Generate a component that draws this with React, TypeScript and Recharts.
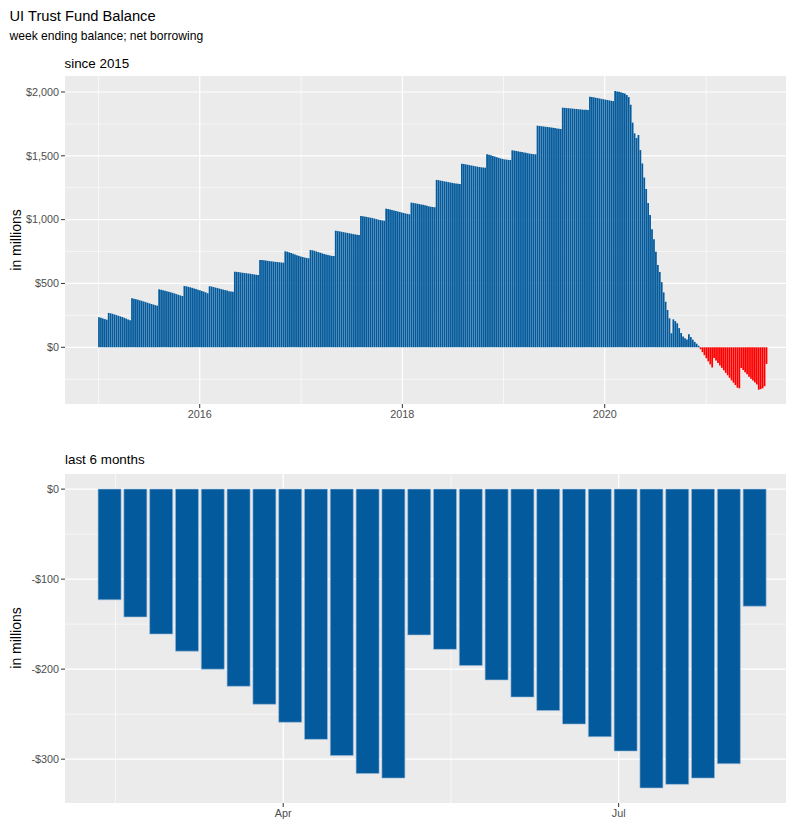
import React from 'react';
import { BarChart, Bar, XAxis, YAxis, CartesianGrid, Cell } from 'recharts';

const DAY = 86400000;

// week ending balance, $ millions, one value per Saturday starting 2015-01-03
const firstWeek = '2015-01-03';
const balance2015 = [
  235, 231, 226, 221, 216,
  269, 266, 262, 257, 252, 247, 242, 237, 231, 225, 218, 211,
  384, 381, 377, 373, 368, 364, 359, 354, 349, 344, 339, 335, 330, 326,
  454, 451, 447, 443, 439, 435, 431, 426, 421, 416, 411, 406, 402,
  480, 478, 474, 470, 466, 461, 456, 451,
];
const balance2016 = [
  446, 441, 436, 430, 423,
  478, 476, 472, 468, 464, 460, 456, 452, 448, 444, 440, 437, 436,
  592, 591, 589, 586, 584, 582, 580, 578, 576, 573, 571, 568, 566,
  684, 683, 681, 679, 677, 675, 673, 671, 669, 668, 666, 664, 663,
  752, 749, 744, 738, 733, 727, 721, 716, 711,
];
const balance2017 = [
  707, 703, 700, 697,
  762, 760, 756, 751, 746, 741, 736, 731, 727, 723, 719, 716, 715,
  913, 911, 908, 905, 902, 899, 896, 893, 890, 887, 884, 882, 880,
  1029, 1027, 1024, 1021, 1018, 1015, 1012, 1008, 1004, 1000, 997, 994, 992,
  1086, 1084, 1080, 1076, 1072, 1068, 1064, 1060, 1056,
];
const balance2018 = [
  1052, 1048, 1045, 1042,
  1133, 1131, 1128, 1125, 1122, 1119, 1116, 1112, 1108, 1104, 1101, 1099, 1097,
  1311, 1309, 1306, 1303, 1300, 1297, 1294, 1291, 1288, 1285, 1283, 1281, 1279,
  1438, 1436, 1433, 1430, 1427, 1424, 1421, 1418, 1415, 1412, 1410, 1408, 1407,
  1512, 1509, 1504, 1499, 1494, 1489, 1484, 1479, 1475,
];
const balance2019 = [
  1472, 1470, 1468, 1467,
  1543, 1541, 1538, 1535, 1532, 1529, 1526, 1523, 1520, 1517, 1515, 1513, 1512,
  1736, 1734, 1732, 1730, 1728, 1726, 1724, 1722, 1720, 1717, 1714, 1712, 1710,
  1877, 1876, 1874, 1873, 1871, 1870, 1868, 1867, 1865, 1864, 1862, 1861, 1860, 1859,
  1963, 1961, 1958, 1955, 1952, 1949, 1946, 1943,
];
const balance2020 = [
  1940, 1937, 1934, 1931, 1929,
  2008, 2004, 2001, 1997, 1993, 1988, 1976, 1960, 1900, 1760, 1676, 1640, 1663,
  1545, 1440, 1330, 1240, 1130, 1036, 924, 846, 749, 645, 590, 510, 430, 357,
  292, 227, 110, 219, 205, 188, 150, 112, 85, 70, 62, 102, 80, 60, 42, 28, 12,
  -15, -38, -62,
];
const borrowing2021Jan = [-86, -110, -134, -158, -84, -104];

// last 6 months
const last6Dates = [
  '2021-02-13', '2021-02-20', '2021-02-27', '2021-03-06', '2021-03-13', '2021-03-20',
  '2021-03-27', '2021-04-03', '2021-04-10', '2021-04-17', '2021-04-24', '2021-05-01',
  '2021-05-08', '2021-05-15', '2021-05-22', '2021-05-29', '2021-06-05', '2021-06-12',
  '2021-06-19', '2021-06-26', '2021-07-03', '2021-07-10', '2021-07-17', '2021-07-24',
  '2021-07-31', '2021-08-07',
];
const last6Values = [
  -123, -142, -161, -180, -200, -219, -239, -259, -278, -296, -316, -321,
  -162, -178, -196, -212, -231, -246, -261, -275, -291, -332, -328, -321, -305, -130,
];

const yearTicks = ['2016-01-01', '2018-01-01', '2020-01-01'];
const yearMinor = ['2015-01-01', '2017-01-01', '2019-01-01', '2021-01-01'];
const balanceTicks = [0, 500, 1000, 1500, 2000];
const balanceMinor = [-250, 250, 750, 1250, 1750];
const monthTicks = ['2021-04-01', '2021-07-01'];
const monthMinor = ['2021-02-14T12:00:00Z', '2021-05-16T12:00:00Z'];
const borrowTicks = [-300, -200, -100, 0];
const borrowMinor = [-250, -150, -50];

const MONTHS = ['Jan', 'Feb', 'Mar', 'Apr', 'May', 'Jun', 'Jul', 'Aug', 'Sep', 'Oct', 'Nov', 'Dec'];
const ts = (s: string) => Date.parse(s.length === 10 ? s + 'T00:00:00Z' : s);

const allBalances = [
  ...balance2015, ...balance2016, ...balance2017, ...balance2018,
  ...balance2019, ...balance2020, ...borrowing2021Jan, ...last6Values,
];
const topData = allBalances.map((v, i) => ({ t: ts(firstWeek) + i * 7 * DAY, v }));
const bottomData = last6Dates.map((d, i) => ({ t: ts(d), v: last6Values[i] }));

const FONT = '"Liberation Sans", Arial, sans-serif';
const BLUE = '#035a9c';
const tickStyle = { fill: '#4d4d4d', fontSize: 10.8, fontFamily: FONT };
const money = (v: number) => (v < 0 ? '-$' : '$') + Math.abs(v).toLocaleString('en-US');

const App: React.FC = () => {
  const apr = ts('2021-04-01');
  return (
    <div style={{ position: 'absolute', left: 0, top: 0, width: 787, height: 819, background: '#fff', fontFamily: FONT }}>
      <svg width={787} height={819} style={{ position: 'absolute', left: 0, top: 0 }}>
        <text x={9.5} y={21} fontSize={14.7} fill="#000" fontFamily={FONT}>UI Trust Fund Balance</text>
        <text x={9.5} y={39.5} fontSize={12.1} fill="#000" fontFamily={FONT}>week ending balance; net borrowing</text>
        <text x={64.5} y={67.5} fontSize={13.4} fill="#000" fontFamily={FONT}>since 2015</text>
        <text x={65} y={464} fontSize={13.4} fill="#000" fontFamily={FONT}>last 6 months</text>
        <text x={16} y={240} fontSize={14} fill="#000" fontFamily={FONT} textAnchor="middle" dominantBaseline="central" transform="rotate(-90 16 240)">in millions</text>
        <text x={16} y={638} fontSize={14} fill="#000" fontFamily={FONT} textAnchor="middle" dominantBaseline="central" transform="rotate(-90 16 638)">in millions</text>
      </svg>

      <div style={{ position: 'absolute', left: 0, top: 76 }}>
        <BarChart width={787} height={348} data={topData} margin={{ top: 0, right: 1, bottom: 0, left: 0 }} barCategoryGap={0}>
          <CartesianGrid fill="#ebebeb" stroke="#ffffff" strokeWidth={0.6}
            horizontalValues={balanceMinor} verticalValues={yearMinor.map(ts)} />
          <CartesianGrid stroke="#ffffff" strokeWidth={1.2}
            horizontalValues={balanceTicks} verticalValues={yearTicks.map(ts)} />
          <XAxis type="number" dataKey="t" domain={[ts('2014-09-02'), ts('2021-10-16')]} allowDataOverflow
            ticks={yearTicks.map(ts)} interval={0} tickFormatter={(v: number) => String(new Date(v).getUTCFullYear())}
            axisLine={false} tickSize={4} tickLine={{ stroke: '#333' }} tick={tickStyle} height={20} />
          <YAxis type="number" domain={[-444.2, 2125.2]} allowDataOverflow ticks={balanceTicks} interval={0}
            tickFormatter={money} axisLine={false} tickSize={4} tickLine={{ stroke: '#333' }} tick={tickStyle} width={65} />
          <Bar dataKey="v" barSize={1.75} isAnimationActive={false}>
            {topData.map((d, i) => (
              <Cell key={i} fill={d.v < 0 ? '#ff0000' : BLUE} />
            ))}
          </Bar>
        </BarChart>
      </div>

      <div style={{ position: 'absolute', left: 0, top: 473.5 }}>
        <BarChart width={787} height={349} data={bottomData} margin={{ top: 0, right: 1, bottom: 0, left: 0 }}>
          <CartesianGrid fill="#ebebeb" stroke="#ffffff" strokeWidth={0.6}
            horizontalValues={borrowMinor} verticalValues={monthMinor.map(ts)} />
          <CartesianGrid stroke="#ffffff" strokeWidth={1.2}
            horizontalValues={borrowTicks} verticalValues={monthTicks.map(ts)} />
          <XAxis type="number" dataKey="t" domain={[apr - 59.2 * DAY, apr + 136.4 * DAY]} allowDataOverflow
            ticks={monthTicks.map(ts)} interval={0} tickFormatter={(v: number) => MONTHS[new Date(v).getUTCMonth()]}
            axisLine={false} tickSize={4} tickLine={{ stroke: '#333' }} tick={tickStyle} height={20} />
          <YAxis type="number" domain={[-348.7, 16.8]} allowDataOverflow ticks={borrowTicks} interval={0}
            tickFormatter={money} axisLine={false} tickSize={4} tickLine={{ stroke: '#333' }} tick={tickStyle} width={65} />
          <Bar dataKey="v" barSize={23} fill={BLUE} stroke="#9cbad8" strokeWidth={0.6} isAnimationActive={false} />
        </BarChart>
      </div>
    </div>
  );
};

export default App;
